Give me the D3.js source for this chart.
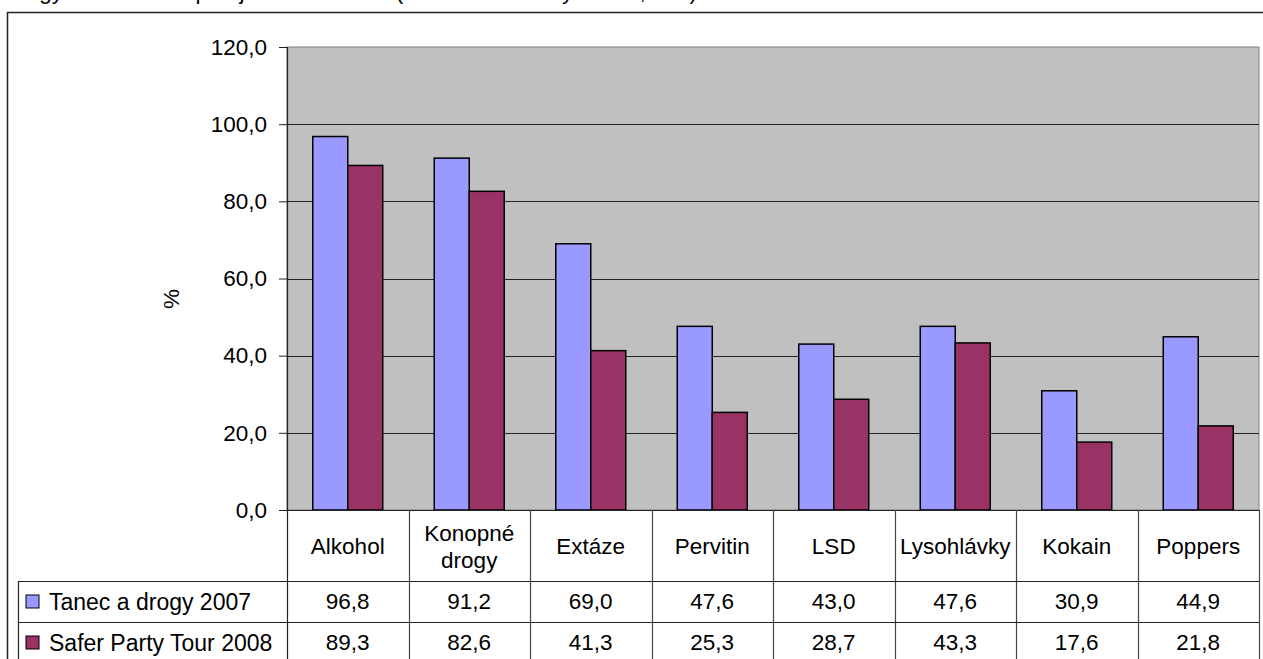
<!DOCTYPE html>
<html>
<head>
<meta charset="utf-8">
<script src="https://cdn.jsdelivr.net/npm/d3@7"></script>
<style>
  body { margin: 0; background: #fff; }
  svg text { font-family: "Liberation Sans", Arial, sans-serif; }
</style>
</head>
<body>
<div id="chart"></div>
<script>
// data
var categories = ["Alkohol", "Konopné drogy", "Extáze", "Pervitin", "LSD", "Lysohlávky", "Kokain", "Poppers"];
var series = ["Tanec a drogy 2007", "Safer Party Tour 2008"];
var tanec2007 = [96.8, 91.2, 69.0, 47.6, 43.0, 47.6, 30.9, 44.9];
var safer2008 = [89.3, 82.6, 41.3, 25.3, 28.7, 43.3, 17.6, 21.8];
var yTicks = [0, 20, 40, 60, 80, 100, 120];

var colors = ["#9999ff", "#993366"];
var values = [tanec2007, safer2008];

var W = 1263, H = 659;
var plot = {left: 287, right: 1259, top: 47, bottom: 510};
var rowTop = 581, rowH = 41, legendLeft = 18;
var fontSize = 22.5;

var fmt = function(v) { return d3.format(".1f")(v).replace(".", ","); };

var svg = d3.select("#chart").append("svg")
    .attr("width", W).attr("height", H);

// caption cut off at the top of the picture
svg.append("text")
    .attr("x", 3).attr("y", -1)
    .style("font-size", fontSize + "px")
    .text("Drogy užívané alespoň jednou v životě (srovnání dvou výzkumů, v %)");

// outer frame
svg.append("rect")
    .attr("x", 7.5).attr("y", 12.5)
    .attr("width", W + 10).attr("height", H + 10)
    .attr("fill", "none").attr("stroke", "#222").attr("stroke-width", 1.5);

// scales
var x = d3.scaleBand()
    .domain(categories)
    .range([plot.left, plot.right])
    .padding(0);

var xSub = d3.scaleBand()
    .domain(series)
    .range([0, x.bandwidth()])
    .paddingInner(0)
    .paddingOuter(0.736);

var y = d3.scaleLinear()
    .domain([0, 120])
    .range([plot.bottom, plot.top]);

// plot background
svg.append("rect")
    .attr("x", plot.left).attr("y", plot.top)
    .attr("width", plot.right - plot.left).attr("height", plot.bottom - plot.top)
    .attr("fill", "#c0c0c0")
    .attr("stroke", "#808080").attr("stroke-width", 1);

// gridlines
svg.append("g")
    .selectAll("line")
    .data(yTicks.filter(d => d > 0 && d < 120))
    .join("line")
    .attr("x1", plot.left).attr("x2", plot.right)
    .attr("y1", d => Math.round(y(d)) + 0.5).attr("y2", d => Math.round(y(d)) + 0.5)
    .attr("stroke", "#222").attr("stroke-width", 1);

// y axis
var yAxis = svg.append("g")
    .attr("transform", `translate(${plot.left},0)`)
    .call(d3.axisLeft(y).tickValues(yTicks).tickSize(8).tickPadding(12).tickFormat(fmt));
yAxis.select(".domain").remove();
yAxis.selectAll("line").attr("stroke", "#222");
yAxis.selectAll("text")
    .style("font-size", fontSize + "px")
    .style("font-family", "Liberation Sans, Arial, sans-serif")
    .attr("fill", "#000");

svg.append("line")
    .attr("x1", plot.left + 0.5).attr("x2", plot.left + 0.5)
    .attr("y1", plot.top).attr("y2", H)
    .attr("stroke", "#222").attr("stroke-width", 1.2);

// y title
svg.append("text")
    .attr("transform", "translate(171,299) rotate(-90)")
    .attr("text-anchor", "middle")
    .attr("dominant-baseline", "central")
    .style("font-size", fontSize + "px")
    .text("%");

// bars
var data = categories.map((c, i) => ({cat: c, vals: series.map((s, j) => ({key: s, value: values[j][i], color: colors[j]}))}));

svg.append("g")
    .selectAll("g")
    .data(data)
    .join("g")
    .attr("transform", d => `translate(${x(d.cat)},0)`)
    .selectAll("rect")
    .data(d => d.vals)
    .join("rect")
    .attr("x", d => xSub(d.key))
    .attr("y", d => y(d.value))
    .attr("width", xSub.bandwidth())
    .attr("height", d => plot.bottom - y(d.value))
    .attr("fill", d => d.color)
    .attr("stroke", "#000").attr("stroke-width", 1.5);

// bottom axis line
svg.append("line")
    .attr("x1", plot.left - 8).attr("x2", plot.right)
    .attr("y1", plot.bottom + 0.5).attr("y2", plot.bottom + 0.5)
    .attr("stroke", "#222").attr("stroke-width", 1.2);

// data table grid
var table = svg.append("g");
table.selectAll("line.v")
    .data(categories.slice(1).map(c => x(c)).concat([plot.right]))
    .join("line")
    .attr("class", "v")
    .attr("x1", d => Math.round(d) + 0.5).attr("x2", d => Math.round(d) + 0.5)
    .attr("y1", plot.bottom).attr("y2", H)
    .attr("stroke", "#444").attr("stroke-width", 1.2);

table.selectAll("line.h")
    .data([rowTop, rowTop + rowH])
    .join("line")
    .attr("class", "h")
    .attr("x1", legendLeft).attr("x2", plot.right)
    .attr("y1", d => d + 0.5).attr("y2", d => d + 0.5)
    .attr("stroke", "#222").attr("stroke-width", 1.2);

table.append("line")
    .attr("x1", legendLeft + 0.5).attr("x2", legendLeft + 0.5)
    .attr("y1", rowTop).attr("y2", H)
    .attr("stroke", "#222").attr("stroke-width", 1.2);

// category labels (wrapped when too wide)
var catLabels = svg.append("g")
    .selectAll("text")
    .data(categories)
    .join("text")
    .attr("x", d => x(d) + x.bandwidth() / 2)
    .attr("y", (plot.bottom + rowTop) / 2 + 1)
    .attr("text-anchor", "middle")
    .attr("dominant-baseline", "central")
    .style("font-size", fontSize + "px")
    .text(d => d);

catLabels.each(function(d) {
    var t = d3.select(this);
    if (this.getComputedTextLength() > x.bandwidth() - 2 && d.indexOf(" ") > 0) {
        var words = d.split(" ");
        t.text(null);
        words.forEach((w, i) => {
            t.append("tspan")
                .attr("x", x(d) + x.bandwidth() / 2)
                .attr("dy", i === 0 ? -fontSize * 0.62 : fontSize * 1.24)
                .text(w);
        });
    }
});

// table rows: legend key + values
series.forEach((s, j) => {
    var cy = rowTop + rowH * j + rowH / 2;
    svg.append("rect")
        .attr("x", 26).attr("y", cy - 6.5)
        .attr("width", 13).attr("height", 13)
        .attr("fill", colors[j]).attr("stroke", "#000").attr("stroke-width", 1);
    svg.append("text")
        .attr("x", 49).attr("y", cy)
        .attr("dominant-baseline", "central")
        .style("font-size", "23px")
        .text(s);
    svg.append("g")
        .selectAll("text")
        .data(categories)
        .join("text")
        .attr("x", d => x(d) + x.bandwidth() / 2)
        .attr("y", cy)
        .attr("text-anchor", "middle")
        .attr("dominant-baseline", "central")
        .style("font-size", fontSize + "px")
        .text((d, i) => fmt(values[j][i]));
});
</script>
</body>
</html>
